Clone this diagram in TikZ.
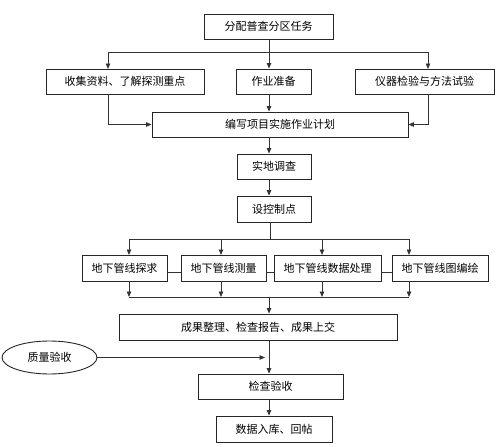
\documentclass[tikz,border=0pt]{standalone}
\usepackage{fontspec}
\setmainfont{Noto Sans CJK SC}
\usetikzlibrary{arrows.meta,shapes.geometric}
\begin{document}
\begin{tikzpicture}[x=1pt,y=-1pt,
  box/.style={draw=black!85,line width=0.9pt,inner sep=0pt,font=\fontsize{11}{13}\selectfont},
  ln/.style={draw=black!80,line width=0.8pt},
  arr/.style={ln,-{Triangle[length=5.5pt,width=4.5pt]}}]
\useasboundingbox (0,0) rectangle (504,447);
\newcommand\bx[6]{\node[box,minimum width={#4-#2},minimum height={#5-#3}] (#1) at ({(#2+#4)/2},{(#3+#5)/2}) {#6};}
\bx{t}{204}{14}{333}{39}{分配普查分区任务}
\bx{a1}{46}{69}{204}{94}{收集资料、了解探测重点}
\bx{a2}{236}{69}{311}{94}{作业准备}
\bx{a3}{355}{69}{494}{94}{仪器检验与方法试验}
\bx{p}{152}{112}{408}{137}{编写项目实施作业计划}
\bx{s}{237}{154}{311}{179}{实地调查}
\bx{k}{237}{196}{311}{222}{设控制点}
\bx{b1}{82}{255}{167}{281}{地下管线探求}
\bx{b2}{181}{255}{266}{281}{地下管线测量}
\bx{b3}{274}{255}{381}{281}{地下管线数据处理}
\bx{b4}{392}{255}{488}{281}{地下管线图编绘}
\bx{r}{119}{314}{397}{340}{成果整理、检查报告、成果上交}
\bx{c}{198}{374}{343}{399}{检查验收}
\bx{d}{216}{416}{332}{442}{数据入库、回帖}
\node[box,ellipse,minimum width=95,minimum height=33] (q) at (49.5,357.5) {质量验收};
% top split
\coordinate (j1) at (269,52);
\draw[ln] (t.south -| j1) -- (j1);
\draw[arr] (j1) -- (j1 |- a2.north);
\draw[arr] (j1) -| (108,69);
\draw[arr] (j1) -| (428,69);
\draw[arr] (108,94) |- (p.west);
\draw[arr] (428,94) |- (p.east);
\draw[arr] (j1 |- a2.south) -- (j1 |- p.north);
\draw[arr] (j1 |- p.south) -- (j1 |- s.north);
\draw[arr] (j1 |- s.south) -- (j1 |- k.north);
% second split
\coordinate (j2) at (270,239);
\draw[ln] (j2 |- k.south) -- (j2);
\draw[ln] (129,239) -- (409,239);
\draw[arr] (129,239) -- (129,255);
\draw[arr] (221,239) -- (221,255);
\draw[arr] (322,239) -- (322,255);
\draw[arr] (409,239) -- (409,255);
\draw[ln] (b1.east |- 0,272) -- (b2.west |- 0,272);
\draw[ln] (b2.east |- 0,272) -- (b3.west |- 0,272);
\draw[ln] (b3.east |- 0,272) -- (b4.west |- 0,272);
% join
\draw[arr] (129,281) -- (129,297);
\draw[arr] (221,281) -- (221,297);
\draw[arr] (322,281) -- (322,297);
\draw[arr] (409,281) -- (409,297);
\draw[ln] (129,297) -- (409,297);
\coordinate (j3) at (269,297);
\draw[arr] (j3) -- (j3 |- r.north);
\draw[arr] (j3 |- r.south) -- (j3 |- c.north);
\draw[arr] (q.east) -- (265,357.5);
\draw[arr] (j3 |- c.south) -- (j3 |- d.north);
\end{tikzpicture}
\end{document}
